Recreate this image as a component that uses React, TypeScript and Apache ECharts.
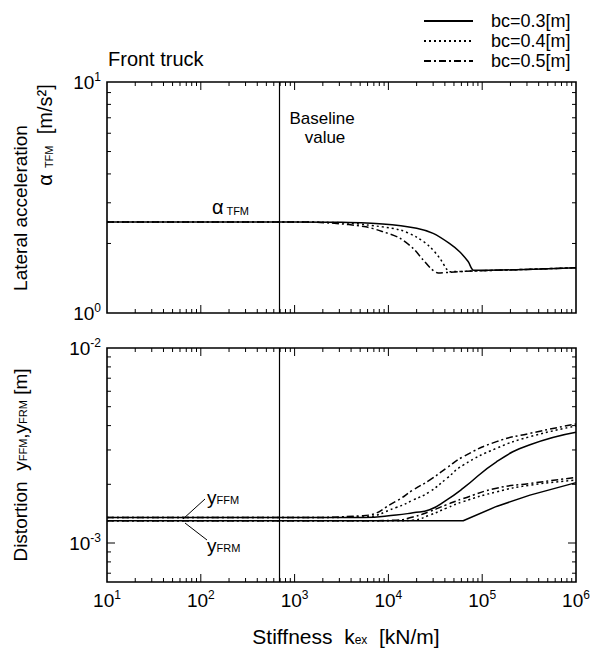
import React, { useEffect, useRef } from 'react';
import * as echarts from 'echarts';

// ---------- data ----------
const seriesNames = ['bc=0.3[m]', 'bc=0.4[m]', 'bc=0.5[m]'];
const baselineStiffness = 680; // kN/m

// Top panel: lateral acceleration alpha_TFM [m/s^2]
const stiffAccel03 = [10, 100, 1000, 3000, 8700, 20000, 30000, 44700, 57500, 70800, 81000, 100000, 230000, 1000000];
const accel03 = [2.48, 2.48, 2.48, 2.47, 2.43, 2.33, 2.21, 2.0, 1.84, 1.67, 1.53, 1.53, 1.54, 1.57];
const stiffAccel04 = [10, 100, 1000, 2000, 3800, 5750, 13200, 20000, 27500, 35500, 41700, 44700, 79400, 234000, 1000000];
const accel04 = [2.48, 2.48, 2.48, 2.47, 2.45, 2.41, 2.29, 2.13, 1.94, 1.72, 1.55, 1.51, 1.52, 1.54, 1.57];
const stiffAccel05 = [10, 100, 1000, 2500, 5750, 8700, 13200, 18200, 23400, 28800, 33900, 44700, 79400, 234000, 1000000];
const accel05 = [2.48, 2.48, 2.48, 2.45, 2.36, 2.25, 2.11, 1.91, 1.7, 1.55, 1.49, 1.5, 1.52, 1.54, 1.57];

// Bottom panel: distortion y_FFM, y_FRM [m]
const stiffDist = [10, 1000, 5350, 12100, 18300, 27500, 41600, 62700, 142000, 323000, 1000000];
const yFFM03 = [1.35e-3, 1.35e-3, 1.35e-3, 1.39e-3, 1.43e-3, 1.48e-3, 1.66e-3, 1.91e-3, 2.61e-3, 3.19e-3, 3.7e-3];
const yFFM04 = [1.35e-3, 1.35e-3, 1.36e-3, 1.52e-3, 1.66e-3, 1.83e-3, 2.14e-3, 2.51e-3, 3.06e-3, 3.51e-3, 3.98e-3];
const yFFM05 = [1.35e-3, 1.35e-3, 1.38e-3, 1.64e-3, 1.87e-3, 2.1e-3, 2.42e-3, 2.77e-3, 3.31e-3, 3.65e-3, 4.08e-3];
const yFRM03 = [1.3e-3, 1.3e-3, 1.3e-3, 1.3e-3, 1.3e-3, 1.3e-3, 1.3e-3, 1.3e-3, 1.54e-3, 1.76e-3, 2.04e-3];
const yFRM04 = [1.3e-3, 1.3e-3, 1.3e-3, 1.3e-3, 1.31e-3, 1.39e-3, 1.51e-3, 1.63e-3, 1.83e-3, 1.98e-3, 2.1e-3];
const yFRM05 = [1.3e-3, 1.3e-3, 1.3e-3, 1.31e-3, 1.36e-3, 1.45e-3, 1.57e-3, 1.69e-3, 1.91e-3, 2.02e-3, 2.17e-3];

// axis ranges
const xMin = 10;
const xMax = 1e6;
const accelMin = 1;
const accelMax = 10;
const distMin = Math.pow(10, -3.2);
const distMax = 1e-2;

// tick positions (axis decoration)
const xMajorTicks = [100, 1000, 10000, 100000];
const xMinorTicks: number[] = [];
for (let d = 1; d <= 5; d++) for (let m = 2; m <= 9; m++) xMinorTicks.push(m * Math.pow(10, d));
const accelMinorTicks = [2, 3, 4, 5, 6, 7, 8, 9];
const distMajorTicks = [1e-3];
const distMinorTicks = [7e-4, 8e-4, 9e-4, 2e-3, 3e-3, 4e-3, 5e-3, 6e-3, 7e-3, 8e-3, 9e-3];

const FONT = 'Liberation Sans, Arial, Helvetica, sans-serif';

const lineStyles: any[] = [
  { color: '#000', width: 1.5, type: 'solid' },
  { color: '#000', width: 1.5, type: [2, 3] },
  { color: '#000', width: 1.5, type: [7, 3, 2, 3] },
];

function pairs(xs: number[], ys: number[]) {
  return xs.map((x, i) => [x, ys[i]]);
}

function powLabel(v: number) {
  const l = Math.log10(v);
  const e = Math.round(l);
  if (Math.abs(l - e) > 1e-6) return '';
  return `{b|10}{s|${e}}`;
}

const labelRich = {
  b: { fontSize: 19, fontFamily: FONT, color: '#000' },
  s: { fontSize: 12, fontFamily: FONT, color: '#000', padding: [0, 0, 10, 0] },
};

function tickRender(params: any, api: any) {
  const cs = params.coordSys;
  const kind = api.value(1);
  const len = api.value(2);
  const pt = api.coord([api.value(0), api.value(3)]);
  const st = { stroke: '#000', lineWidth: 1 };
  if (kind === 0) {
    const px = pt[0];
    return {
      type: 'group',
      children: [
        { type: 'line', shape: { x1: px, y1: cs.y + cs.height, x2: px, y2: cs.y + cs.height - len }, style: st },
        { type: 'line', shape: { x1: px, y1: cs.y, x2: px, y2: cs.y + len }, style: st },
      ],
    };
  }
  const py = pt[1];
  return {
    type: 'group',
    children: [
      { type: 'line', shape: { x1: cs.x, y1: py, x2: cs.x + len, y2: py }, style: st },
      { type: 'line', shape: { x1: cs.x + cs.width, y1: py, x2: cs.x + cs.width - len, y2: py }, style: st },
    ],
  };
}

function tickData(xMaj: number[], xMin_: number[], yMaj: number[], yMin_: number[], refX: number, refY: number) {
  const d: number[][] = [];
  xMaj.forEach((v) => d.push([v, 0, 8, refY]));
  xMin_.forEach((v) => d.push([v, 0, 4, refY]));
  yMaj.forEach((v) => d.push([refX, 1, 8, v]));
  yMin_.forEach((v) => d.push([refX, 1, 4, v]));
  return d;
}

const baselineMark = {
  silent: true,
  symbol: 'none',
  label: { show: false },
  lineStyle: { color: '#000', type: 'solid', width: 1.2 },
  data: [{ xAxis: baselineStiffness }],
};

const subRich = (big: number, small: number, drop: number) => ({
  a: { fontSize: big, fontFamily: FONT, fill: '#000' },
  s: { fontSize: small, fontFamily: FONT, fill: '#000', padding: [drop, 0, 0, 0] },
});

export default function App() {
  const ref = useRef<HTMLDivElement>(null);
  useEffect(() => {
    if (!ref.current) return;
    const chart = echarts.init(ref.current, undefined, { renderer: 'svg' });

    const axisCommon = {
      type: 'log',
      logBase: 10,
      axisLine: { show: false },
      axisTick: { show: false },
      splitLine: { show: false },
      minorTick: { show: false },
    };

    const topData = [pairs(stiffAccel03, accel03), pairs(stiffAccel04, accel04), pairs(stiffAccel05, accel05)];
    const ffm = [yFFM03, yFFM04, yFFM05];
    const frm = [yFRM03, yFRM04, yFRM05];

    const series: any[] = [];
    topData.forEach((d, i) => {
      series.push({
        type: 'line',
        name: seriesNames[i],
        xAxisIndex: 0,
        yAxisIndex: 0,
        data: d,
        symbol: 'none',
        smooth: 0.3,
        lineStyle: lineStyles[i],
        itemStyle: { color: '#000' },
        markLine: i === 0 ? baselineMark : undefined,
        z: 3,
      });
    });
    [ffm, frm].forEach((grp, g) => {
      grp.forEach((ys, i) => {
        series.push({
          type: 'line',
          name: seriesNames[i],
          xAxisIndex: 1,
          yAxisIndex: 1,
          data: pairs(stiffDist, ys),
          symbol: 'none',
          smooth: g === 1 && i === 0 ? false : 0.5,
          lineStyle: lineStyles[i],
          itemStyle: { color: '#000' },
          markLine: g === 0 && i === 0 ? baselineMark : undefined,
          z: 3,
        });
      });
    });
    series.push({
      type: 'custom',
      xAxisIndex: 0,
      yAxisIndex: 0,
      silent: true,
      renderItem: tickRender,
      encode: { x: 0, y: 3 },
      data: tickData(xMajorTicks, xMinorTicks, [], accelMinorTicks, 100, 2),
      z: 4,
    });
    series.push({
      type: 'custom',
      xAxisIndex: 1,
      yAxisIndex: 1,
      silent: true,
      renderItem: tickRender,
      encode: { x: 0, y: 3 },
      data: tickData(xMajorTicks, xMinorTicks, distMajorTicks, distMinorTicks, 100, 0.002),
      z: 4,
    });

    const txt = (x: number, y: number, text: string, extra: any = {}) => ({
      type: 'text',
      x,
      y,
      style: { text, fill: '#000', font: `16px ${FONT}`, ...extra },
    });

    chart.setOption({
      animation: false,
      backgroundColor: '#fff',
      legend: {
        data: seriesNames,
        orient: 'vertical',
        left: 423,
        top: 11,
        padding: 0,
        itemWidth: 49,
        itemHeight: 14,
        itemGap: 0,
        itemStyle: { opacity: 0 },
        textStyle: { fontSize: 18, lineHeight: 20, fontFamily: FONT, color: '#000', padding: [0, 0, 0, 13] },
        selectedMode: false,
      },
      grid: [
        { left: 107, right: 19, top: 82, height: 231, show: true, borderColor: '#000', borderWidth: 1.6, backgroundColor: 'transparent' },
        { left: 107, right: 19, top: 348, height: 234, show: true, borderColor: '#000', borderWidth: 1.6, backgroundColor: 'transparent' },
      ],
      xAxis: [
        { ...axisCommon, gridIndex: 0, min: xMin, max: xMax, axisLabel: { show: false } },
        {
          ...axisCommon,
          gridIndex: 1,
          min: xMin,
          max: xMax,
          axisLabel: { show: true, formatter: powLabel, rich: labelRich, margin: 7 },
        },
      ],
      yAxis: [
        {
          ...axisCommon,
          gridIndex: 0,
          min: accelMin,
          max: accelMax,
          axisLabel: { show: true, formatter: powLabel, rich: labelRich, margin: 6 },
        },
        {
          ...axisCommon,
          gridIndex: 1,
          min: distMin,
          max: distMax,
          axisLabel: { show: true, formatter: powLabel, rich: labelRich, margin: 6 },
        },
      ],
      graphic: [
        txt(108, 59, 'Front truck', { font: `20px ${FONT}`, verticalAlign: 'middle' }),
        txt(322, 118, 'Baseline', { align: 'center', verticalAlign: 'middle', font: `17px ${FONT}` }),
        txt(325, 137, 'value', { align: 'center', verticalAlign: 'middle', font: `17px ${FONT}` }),
        {
          type: 'text',
          x: 212,
          y: 207,
          style: { text: '{a|α}{s| TFM}', verticalAlign: 'middle', rich: subRich(20, 11, 7) },
        },
        // y axis titles
        {
          type: 'text',
          x: 20,
          y: 208,
          rotation: Math.PI / 2,
          style: { text: 'Lateral acceleration', align: 'center', verticalAlign: 'middle', font: `19px ${FONT}`, fill: '#000' },
        },
        {
          type: 'text',
          x: 45,
          y: 135,
          rotation: Math.PI / 2,
          style: {
            text: '{a|α}{s|  TFM}{a|  [m/s²]}',
            align: 'center',
            verticalAlign: 'middle',
            rich: subRich(20, 11, 7),
          },
        },
        {
          type: 'text',
          x: 20,
          y: 465,
          rotation: Math.PI / 2,
          style: {
            text: '{a|Distortion  y}{s|FFM}{a|,y}{s|FRM}{a| [m]}',
            align: 'center',
            verticalAlign: 'middle',
            rich: subRich(19, 11, 6),
          },
        },
        // x axis title
        {
          type: 'text',
          x: 346,
          y: 636,
          style: {
            text: '{a|Stiffness  k}{s|ex}{a|  [kN/m]}',
            align: 'center',
            verticalAlign: 'middle',
            rich: subRich(21, 12, 8),
          },
        },
        // curve labels in bottom panel
        { type: 'line', shape: { x1: 183, y1: 519, x2: 205, y2: 499 }, style: { stroke: '#000', lineWidth: 1 } },
        { type: 'line', shape: { x1: 185, y1: 523, x2: 207, y2: 540 }, style: { stroke: '#000', lineWidth: 1 } },
        {
          type: 'text',
          x: 207,
          y: 497,
          style: { text: '{a|y}{s|FFM}', verticalAlign: 'middle', rich: subRich(19, 11, 5) },
        },
        {
          type: 'text',
          x: 207,
          y: 545,
          style: { text: '{a|y}{s|FRM}', verticalAlign: 'middle', rich: subRich(19, 11, 5) },
        },
      ],
      series,
    });
    return () => chart.dispose();
  }, []);
  return <div ref={ref} style={{ position: 'fixed', left: 0, top: 0, width: 595, height: 650 }} />;
}
